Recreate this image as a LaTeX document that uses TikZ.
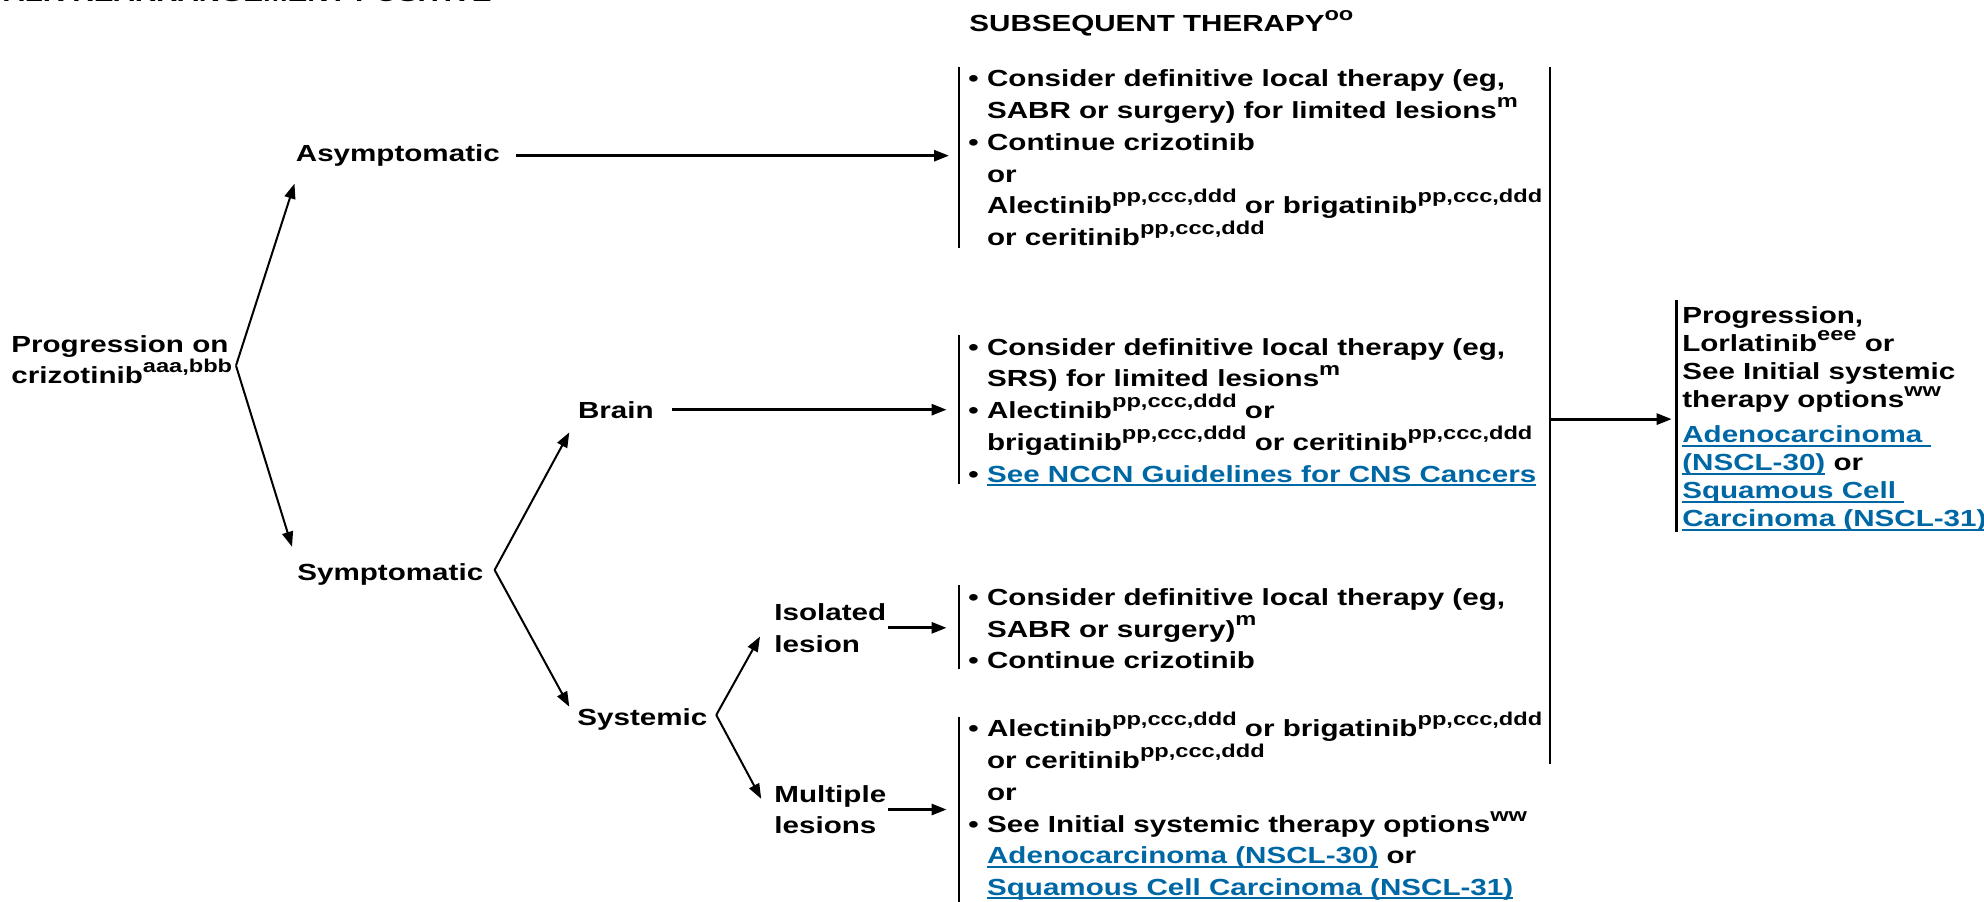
\documentclass[tikz,border=0pt]{standalone}
\usepackage{fontspec}
\setmainfont{Liberation Sans}[FakeStretch=1.27]
\usetikzlibrary{arrows.meta}
\definecolor{linkblue}{RGB}{0,103,165}
\newcommand{\bodyfont}{\fontsize{11.65}{15.85}\selectfont\bfseries}
\newcommand{\nextfont}{\fontsize{11.65}{14.05}\selectfont\bfseries}
\newcommand{\sups}[1]{\raisebox{5.5pt}{\fontsize{9.3}{9}\selectfont #1}}
\newcommand{\bul}{\makebox[9.35pt][l]{\textbullet}}
\newcommand{\indt}{\hspace*{9.35pt}}
\newsavebox{\lnkbox}
\newcommand{\lnk}[1]{\sbox{\lnkbox}{#1}\textcolor{linkblue}{\rlap{\rule[-2pt]{\wd\lnkbox}{1pt}}#1}}
\tikzset{
    lbl/.style={font=\bodyfont, inner sep=0pt, align=left},
    opt/.style={font=\bodyfont, inner xsep=4.5pt, inner ysep=0pt, align=left, anchor=north west},
    bar/.style={line width=1pt},
    jbar/.style={line width=1.4pt},
    flow/.style={->, line width=1pt},
    main/.style={->, line width=1.4pt, shorten >=6.2pt},
}
\begin{document}
\begin{tikzpicture}[x=0.5pt, y=-0.5pt, >={Triangle[length=7.5pt, width=5.5pt]}]
    \useasboundingbox (0,0) rectangle (1984,901);
    \node [lbl, anchor=base west] (title) at (3,1.5) {ALK REARRANGEMENT POSITIVE};
    \node [lbl, anchor=base west] (head) at (969,31.7) {SUBSEQUENT THERAPY\sups{oo}};
    % decision tree
    \node [lbl, anchor=north west] (prog) at (11,335) {Progression on\\crizotinib\sups{aaa,bbb}};
    \node [lbl, anchor=base west] (asym) at (295.5,161.7) {Asymptomatic};
    \node [lbl, anchor=base west] (symp) at (297,580) {Symptomatic};
    \node [lbl, anchor=base west] (brain) at (577.7,418) {Brain};
    \node [lbl, anchor=base west] (syst) at (577,725) {Systemic};
    \node [lbl, anchor=north west] (iso) at (774,603) {Isolated\\lesion};
    \node [lbl, anchor=north west] (mult) at (774,784.7) {Multiple\\lesions};
    % subsequent therapy boxes
    \node [opt] (b1) at (959,69.7) {\bul Consider definitive local therapy (eg,\\
        \indt SABR or surgery) for limited lesions\sups{m}\\
        \bul Continue crizotinib\\
        \indt or\\
        \indt Alectinib\sups{pp,ccc,ddd} or brigatinib\sups{pp,ccc,ddd}\\
        \indt or ceritinib\sups{pp,ccc,ddd}};
    \node [opt] (b2) at (959,338) {\bul Consider definitive local therapy (eg,\\
        \indt SRS) for limited lesions\sups{m}\\
        \bul Alectinib\sups{pp,ccc,ddd} or\\
        \indt brigatinib\sups{pp,ccc,ddd} or ceritinib\sups{pp,ccc,ddd}\\
        \bul \lnk{See NCCN Guidelines for CNS Cancers}};
    \node [opt] (b3) at (959,588) {\bul Consider definitive local therapy (eg,\\
        \indt SABR or surgery)\sups{m}\\
        \bul Continue crizotinib};
    \node [opt] (b4) at (959,712.1) {\bul Alectinib\sups{pp,ccc,ddd} or brigatinib\sups{pp,ccc,ddd}\\
        \indt or ceritinib\sups{pp,ccc,ddd}\\
        \indt or\\
        \bul See Initial systemic therapy options\sups{ww}\\
        \indt \lnk{Adenocarcinoma (NSCL-30)} or\\
        \indt \lnk{Squamous Cell Carcinoma (NSCL-31)}};
    \node [opt, font=\nextfont, inner xsep=2.6pt] (nxt) at (1676.7,306) {Progression,\\
        Lorlatinib\sups{eee} or\\
        See Initial systemic\\
        therapy options\sups{ww}\\[3.5pt]
        \lnk{Adenocarcinoma\ }\\
        \lnk{(NSCL-30)} or\\
        \lnk{Squamous Cell\ }\\
        \lnk{Carcinoma (NSCL-31)}};
    % brackets
    \draw [bar] ([yshift=1.5pt]b1.north west) -- ([yshift=-0.75pt]b1.south west);
    \draw [bar] ([yshift=1.5pt]b2.north west) -- ([yshift=1.2pt]b2.south west);
    \draw [bar] ([yshift=1.5pt]b3.north west) -- (b3.south west);
    \draw [bar] ([yshift=-2.3pt]b4.north west) -- ([yshift=-12pt]b4.south west);
    \coordinate (jtop) at (1550,66.7);
    \coordinate (jbot) at (1550,764);
    \draw [jbar] (jtop) -- (jbot);
    \draw [jbar] ([yshift=3pt]nxt.north west) -- (nxt.south west);
    % forks
    \coordinate (f1) at ([xshift=1.7pt,yshift=-2.9pt]prog.east);
    \coordinate (f2) at ([xshift=5.5pt,yshift=2pt]symp.east);
    \coordinate (f3) at ([xshift=4.25pt,yshift=2pt]syst.east);
    \draw [flow] (f1) -- ([xshift=-0.5pt,yshift=-8.35pt]asym.south west);
    \draw [flow] (f1) -- ([xshift=-2.5pt,yshift=8pt]symp.north west);
    \draw [flow] (f2) -- ([xshift=-4.2pt,yshift=-6.85pt]brain.south west);
    \draw [flow] (f2) -- ([xshift=-3.85pt,yshift=0.5pt]syst.north west);
    \draw [flow] (f3) -- ([xshift=-7pt,yshift=-4.35pt]iso.west);
    \draw [flow] (f3) -- ([xshift=-6.4pt,yshift=5.35pt]mult.west);
    % into the boxes
    \draw [main, shorten <=8pt, shorten >=5pt] (asym.east) -- (asym.east -| b1.west);
    \draw [main, shorten <=9pt] (brain.east) -- (brain.east -| b2.west);
    \draw [main, shorten <=0.65pt] (iso.east) -- (iso.east -| b3.west);
    \draw [main, shorten <=0.65pt] (mult.east) -- (mult.east -| b4.west);
    \draw [main, shorten >=2.5pt] (jtop |- nxt.west) -- (nxt.west);
\end{tikzpicture}
\end{document}
